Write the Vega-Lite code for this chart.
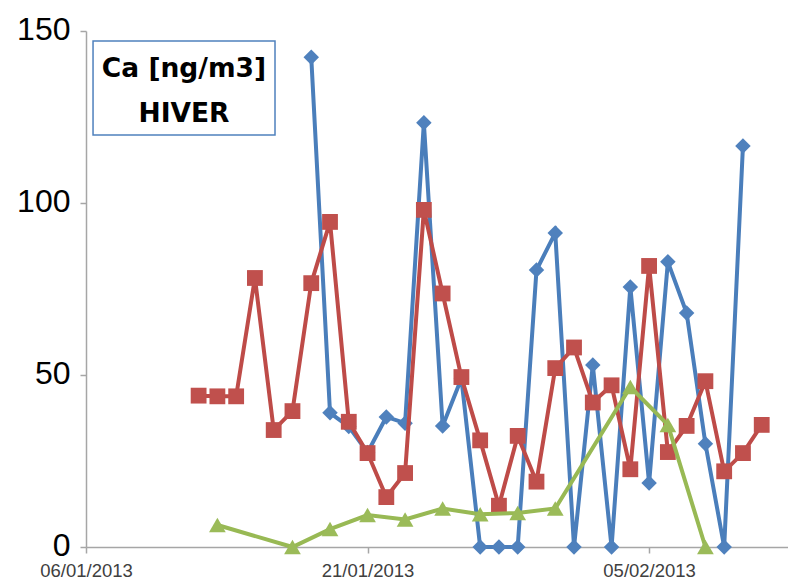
{
  "$schema": "https://vega.github.io/schema/vega-lite/v6.json",
  "width": 702,
  "height": 516,
  "autosize": {"type": "none"},
  "padding": {"left": 86, "top": 31, "right": 0, "bottom": 36},
  "background": "white",
  "config": {"view": {"stroke": null}},
  "datasets": {
    "ca": [
      {"date": "2013-01-18", "serie": "Série 1", "value": 142.4},
      {"date": "2013-01-19", "serie": "Série 1", "value": 39},
      {"date": "2013-01-20", "serie": "Série 1", "value": 35},
      {"date": "2013-01-21", "serie": "Série 1", "value": 27.5},
      {"date": "2013-01-22", "serie": "Série 1", "value": 37.8},
      {"date": "2013-01-23", "serie": "Série 1", "value": 36},
      {"date": "2013-01-24", "serie": "Série 1", "value": 123.3},
      {"date": "2013-01-25", "serie": "Série 1", "value": 35.2},
      {"date": "2013-01-26", "serie": "Série 1", "value": 49},
      {"date": "2013-01-27", "serie": "Série 1", "value": 0},
      {"date": "2013-01-28", "serie": "Série 1", "value": 0},
      {"date": "2013-01-29", "serie": "Série 1", "value": 0},
      {"date": "2013-01-30", "serie": "Série 1", "value": 80.5},
      {"date": "2013-01-31", "serie": "Série 1", "value": 91.3},
      {"date": "2013-02-01", "serie": "Série 1", "value": 0},
      {"date": "2013-02-02", "serie": "Série 1", "value": 52.9},
      {"date": "2013-02-03", "serie": "Série 1", "value": 0},
      {"date": "2013-02-04", "serie": "Série 1", "value": 75.6},
      {"date": "2013-02-05", "serie": "Série 1", "value": 18.6},
      {"date": "2013-02-06", "serie": "Série 1", "value": 82.9},
      {"date": "2013-02-07", "serie": "Série 1", "value": 68},
      {"date": "2013-02-08", "serie": "Série 1", "value": 30},
      {"date": "2013-02-09", "serie": "Série 1", "value": 0},
      {"date": "2013-02-10", "serie": "Série 1", "value": 116.6},
      {"date": "2013-01-12", "serie": "Série 2", "value": 44},
      {"date": "2013-01-13", "serie": "Série 2", "value": 43.8},
      {"date": "2013-01-14", "serie": "Série 2", "value": 43.8},
      {"date": "2013-01-15", "serie": "Série 2", "value": 78.2},
      {"date": "2013-01-16", "serie": "Série 2", "value": 34},
      {"date": "2013-01-17", "serie": "Série 2", "value": 39.5},
      {"date": "2013-01-18", "serie": "Série 2", "value": 76.7},
      {"date": "2013-01-19", "serie": "Série 2", "value": 94.5},
      {"date": "2013-01-20", "serie": "Série 2", "value": 36.4},
      {"date": "2013-01-21", "serie": "Série 2", "value": 27.3},
      {"date": "2013-01-22", "serie": "Série 2", "value": 14.5},
      {"date": "2013-01-23", "serie": "Série 2", "value": 21.5},
      {"date": "2013-01-24", "serie": "Série 2", "value": 98},
      {"date": "2013-01-25", "serie": "Série 2", "value": 73.7},
      {"date": "2013-01-26", "serie": "Série 2", "value": 49.4},
      {"date": "2013-01-27", "serie": "Série 2", "value": 31},
      {"date": "2013-01-28", "serie": "Série 2", "value": 12},
      {"date": "2013-01-29", "serie": "Série 2", "value": 32.3},
      {"date": "2013-01-30", "serie": "Série 2", "value": 19},
      {"date": "2013-01-31", "serie": "Série 2", "value": 52},
      {"date": "2013-02-01", "serie": "Série 2", "value": 58},
      {"date": "2013-02-02", "serie": "Série 2", "value": 42},
      {"date": "2013-02-03", "serie": "Série 2", "value": 47},
      {"date": "2013-02-04", "serie": "Série 2", "value": 22.6},
      {"date": "2013-02-05", "serie": "Série 2", "value": 81.7},
      {"date": "2013-02-06", "serie": "Série 2", "value": 27.6},
      {"date": "2013-02-07", "serie": "Série 2", "value": 35.2},
      {"date": "2013-02-08", "serie": "Série 2", "value": 48.2},
      {"date": "2013-02-09", "serie": "Série 2", "value": 22},
      {"date": "2013-02-10", "serie": "Série 2", "value": 27.3},
      {"date": "2013-02-11", "serie": "Série 2", "value": 35.5},
      {"date": "2013-01-13", "serie": "Série 3", "value": 6.4},
      {"date": "2013-01-17", "serie": "Série 3", "value": 0},
      {"date": "2013-01-19", "serie": "Série 3", "value": 5.2},
      {"date": "2013-01-21", "serie": "Série 3", "value": 9.3},
      {"date": "2013-01-23", "serie": "Série 3", "value": 8},
      {"date": "2013-01-25", "serie": "Série 3", "value": 11.2},
      {"date": "2013-01-27", "serie": "Série 3", "value": 9.5},
      {"date": "2013-01-29", "serie": "Série 3", "value": 9.9},
      {"date": "2013-01-31", "serie": "Série 3", "value": 11.2},
      {"date": "2013-02-04", "serie": "Série 3", "value": 46.5},
      {"date": "2013-02-06", "serie": "Série 3", "value": 35.5},
      {"date": "2013-02-08", "serie": "Série 3", "value": 0}
    ]
  },
  "layer": [
    {
      "data": {"name": "ca"},
      "transform": [{"filter": "datum.serie === 'Série 1'"}],
      "mark": {"type": "line", "color": "#4A7EBB", "strokeWidth": 4, "clip": false},
      "encoding": {
        "x": {
          "field": "date",
          "type": "temporal",
          "scale": {"type": "utc", "domain": [1357430400000, 1360661760000]},
          "axis": {
            "title": null,
            "values": [1357430400000, 1358726400000, 1360022400000],
            "format": "%d/%m/%Y",
            "grid": false,
            "domainColor": "#a6a6a6",
            "domainWidth": 1.5,
            "tickColor": "#a6a6a6",
            "tickWidth": 1.5,
            "tickSize": 6,
            "labelFont": "Liberation Sans",
            "labelFontSize": 18.5,
            "labelColor": "#404040",
            "labelPadding": 8,
            "labelFlush": false,
            "labelOverlap": false
          }
        },
        "y": {
          "field": "value",
          "type": "quantitative",
          "scale": {"domain": [0, 150], "nice": false},
          "axis": {
            "title": null,
            "values": [0, 50, 100, 150],
            "grid": false,
            "domainColor": "#a6a6a6",
            "domainWidth": 1.5,
            "tickColor": "#a6a6a6",
            "tickWidth": 1.5,
            "tickSize": 6,
            "labelFont": "Liberation Sans",
            "labelFontSize": 32,
            "labelColor": "#000000",
            "labelPadding": 10,
            "labelOffset": -2,
            "labelFlush": false,
            "labelOverlap": false
          }
        }
      }
    },
    {
      "data": {"name": "ca"},
      "transform": [{"filter": "datum.serie === 'Série 1'"}],
      "mark": {"type": "point", "shape": "diamond", "size": 240, "filled": true, "color": "#4F81BD", "opacity": 1, "clip": false},
      "encoding": {
        "x": {"field": "date", "type": "temporal"},
        "y": {"field": "value", "type": "quantitative"}
      }
    },
    {
      "data": {"name": "ca"},
      "transform": [{"filter": "datum.serie === 'Série 2'"}],
      "mark": {"type": "line", "color": "#BE4B48", "strokeWidth": 4, "clip": false},
      "encoding": {
        "x": {"field": "date", "type": "temporal"},
        "y": {"field": "value", "type": "quantitative"}
      }
    },
    {
      "data": {"name": "ca"},
      "transform": [{"filter": "datum.serie === 'Série 2'"}],
      "mark": {"type": "point", "shape": "square", "size": 250, "filled": true, "color": "#C0504D", "opacity": 1, "clip": false},
      "encoding": {
        "x": {"field": "date", "type": "temporal"},
        "y": {"field": "value", "type": "quantitative"}
      }
    },
    {
      "data": {"name": "ca"},
      "transform": [{"filter": "datum.serie === 'Série 3'"}],
      "mark": {"type": "line", "color": "#98B954", "strokeWidth": 4, "clip": false},
      "encoding": {
        "x": {"field": "date", "type": "temporal"},
        "y": {"field": "value", "type": "quantitative"}
      }
    },
    {
      "data": {"name": "ca"},
      "transform": [{"filter": "datum.serie === 'Série 3'"}],
      "mark": {"type": "point", "shape": "triangle-up", "size": 280, "filled": true, "color": "#9BBB59", "opacity": 1, "clip": false},
      "encoding": {
        "x": {"field": "date", "type": "temporal"},
        "y": {"field": "value", "type": "quantitative"}
      }
    },
    {
      "data": {"values": [{"label": "box"}]},
      "mark": {"type": "rect", "fill": "white", "stroke": "#4F81BD", "strokeWidth": 1.5},
      "encoding": {
        "x": {"datum": 1357462800000, "type": "temporal"},
        "x2": {"datum": 1358300400000},
        "y": {"datum": 147.1, "type": "quantitative"},
        "y2": {"datum": 119.8}
      }
    },
    {
      "data": {"values": [{"label": "Ca [ng/m3]"}]},
      "mark": {"type": "text", "font": "DejaVu Sans", "fontWeight": "bold", "fontSize": 26.5, "align": "center", "baseline": "alphabetic", "color": "#000000"},
      "encoding": {
        "text": {"field": "label"},
        "x": {"datum": 1357881480000, "type": "temporal"},
        "y": {"datum": 136.5, "type": "quantitative"}
      }
    },
    {
      "data": {"values": [{"label": "HIVER"}]},
      "mark": {"type": "text", "font": "DejaVu Sans", "fontWeight": "bold", "fontSize": 26.5, "align": "center", "baseline": "alphabetic", "color": "#000000"},
      "encoding": {
        "text": {"field": "label"},
        "x": {"datum": 1357881480000, "type": "temporal"},
        "y": {"datum": 123.6, "type": "quantitative"}
      }
    }
  ]
}
